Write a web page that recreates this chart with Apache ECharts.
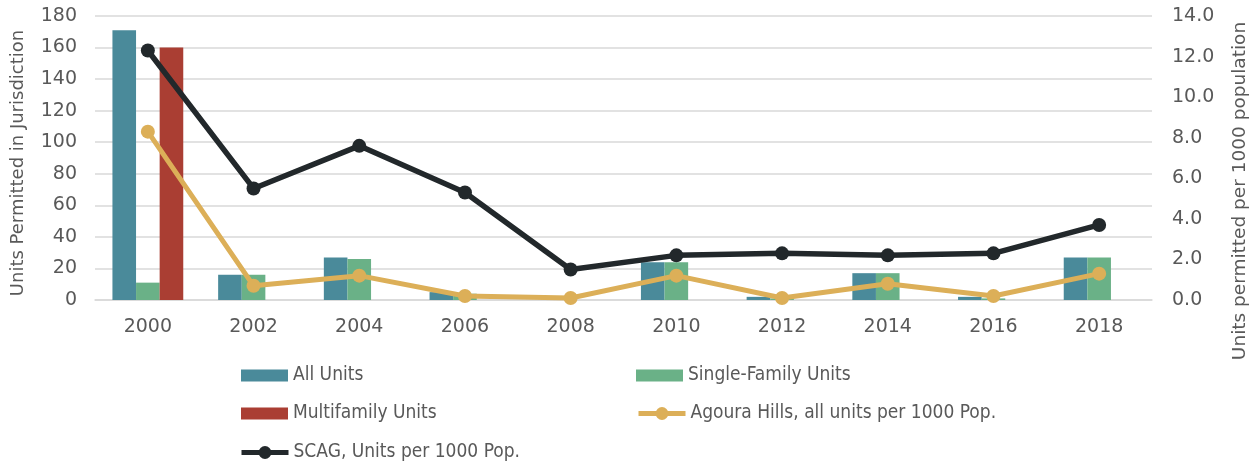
<!DOCTYPE html>
<html>
<head>
<meta charset="utf-8">
<script src="https://cdn.jsdelivr.net/npm/echarts@6/dist/echarts.min.js"></script>
<style>
  html, body { margin: 0; padding: 0; background: #fff; }
  #chart { width: 1258px; height: 465px; }
</style>
</head>
<body>
<div id="chart"></div>
<script>
// 年份
var years = ['2000', '2002', '2004', '2006', '2008', '2010', '2012', '2014', '2016', '2018']
// 柱状数据 (左轴)
var allUnits = [171, 16, 27, 5, 0, 24, 2, 17, 2, 27]
var singleFamily = [11, 16, 26, 4, 0, 24, 1, 17, 1, 27]
var multiFamily = [160, 0, 0, 0, 0, 0, 0, 0, 0, 0]
// 折线数据 (右轴)
var agouraPer1000 = [8.3, 0.7, 1.2, 0.2, 0.1, 1.2, 0.1, 0.8, 0.2, 1.3]
var scagPer1000 = [12.3, 5.5, 7.6, 5.3, 1.5, 2.2, 2.3, 2.2, 2.3, 3.7]

var colorList = ['#4a8a9a', '#6ab187', '#aa3e33', '#dcaf58', '#22282b']
var fontFamily = '"DejaVu Sans", sans-serif'
var legendFont = '"DejaVu Sans Condensed", "DejaVu Sans", sans-serif'

// 单个图例位置
function legendAt(name, left, top, icon) {
  return {
    data: [name],
    left: left,
    top: top,
    padding: 0,
    icon: icon,
    itemWidth: 47,
    itemHeight: icon ? 12 : 16,
    itemGap: 6,
    lineStyle: { width: 5 },
    textStyle: { color: '#595959', fontSize: 19, fontFamily: legendFont }
  }
}

var myChart = echarts.init(document.getElementById('chart'))
myChart.setOption({
  color: colorList,
  animation: false,
  textStyle: { fontFamily: fontFamily },
  grid: { left: 95, right: 102, top: 16, bottom: 165 },
  legend: [
    legendAt('All Units', 241, 366, 'rect'),
    legendAt('Single-Family Units', 636, 366, 'rect'),
    legendAt('Multifamily Units', 241, 404, 'rect'),
    legendAt('Agoura Hills, all units per 1000 Pop.', 636, 404),
    legendAt('SCAG, Units per 1000 Pop.', 239, 443)
  ],
  xAxis: {
    type: 'category',
    data: years,
    axisLine: { show: true, lineStyle: { color: '#d9d9d9', width: 1.5 } },
    axisTick: { show: false },
    axisLabel: { color: '#595959', fontSize: 19, margin: 18 }
  },
  yAxis: [
    {
      type: 'value',
      min: 0,
      max: 180,
      interval: 20,
      name: 'Units Permitted in Jurisdiction',
      nameLocation: 'middle',
      nameRotate: 90,
      nameGap: 68,
      nameTextStyle: { color: '#595959', fontSize: 18, padding: [0, 10, 0, 0] },
      axisLine: { show: false },
      axisTick: { show: false },
      axisLabel: { color: '#595959', fontSize: 19, margin: 18 },
      splitLine: { show: true, lineStyle: { color: '#d9d9d9', width: 1.5 } }
    },
    {
      type: 'value',
      min: 0,
      max: 14,
      interval: 2,
      name: 'Units permitted per 1000 population',
      nameLocation: 'middle',
      nameRotate: 90,
      nameGap: 79,
      nameTextStyle: { color: '#595959', fontSize: 18.5, padding: [0, 66, 0, 0] },
      axisLine: { show: false },
      axisTick: { show: false },
      axisLabel: {
        color: '#595959',
        fontSize: 19,
        margin: 20,
        formatter: function (v) { return v.toFixed(1) }
      },
      splitLine: { show: false }
    }
  ],
  series: [
    {
      name: 'All Units',
      type: 'bar',
      data: allUnits,
      barGap: '0%',
      barCategoryGap: '33%'
    },
    {
      name: 'Single-Family Units',
      type: 'bar',
      data: singleFamily,
      barGap: '0%',
      barCategoryGap: '33%'
    },
    {
      name: 'Multifamily Units',
      type: 'bar',
      data: multiFamily,
      barGap: '0%',
      barCategoryGap: '33%'
    },
    {
      name: 'Agoura Hills, all units per 1000 Pop.',
      type: 'line',
      yAxisIndex: 1,
      data: agouraPer1000,
      symbol: 'circle',
      symbolSize: 14,
      lineStyle: { width: 5 },
      z: 3
    },
    {
      name: 'SCAG, Units per 1000 Pop.',
      type: 'line',
      yAxisIndex: 1,
      data: scagPer1000,
      symbol: 'circle',
      symbolSize: 14,
      lineStyle: { width: 5.5 },
      z: 4
    }
  ]
})
</script>
</body>
</html>
